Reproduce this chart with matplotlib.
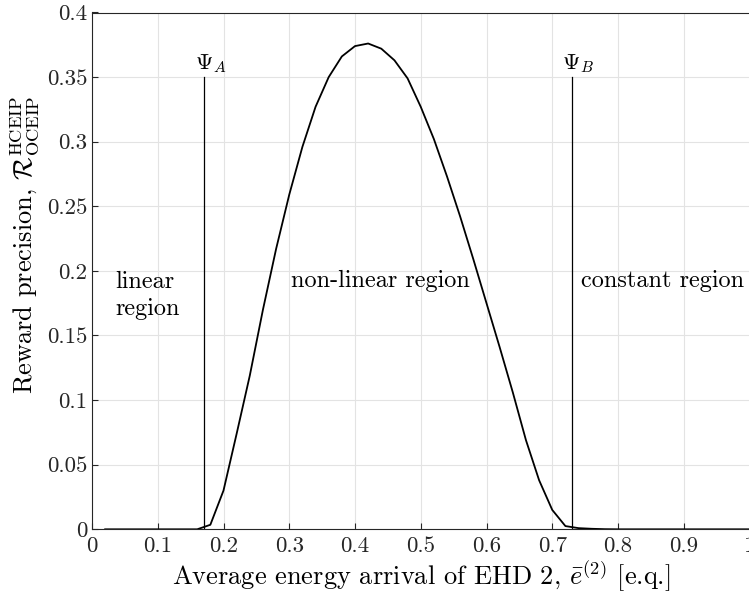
import numpy as np
import matplotlib
matplotlib.use("Agg")
from matplotlib import pyplot as plt

plt.rcParams["font.family"] = "serif"
plt.rcParams["font.serif"] = ["cmr10"]
plt.rcParams["mathtext.fontset"] = "cm"
plt.rcParams["axes.formatter.use_mathtext"] = True

# average energy arrival of EHD 2
e_bar = [0.02, 0.04, 0.06, 0.08, 0.10, 0.12, 0.14, 0.16, 0.18, 0.20,
         0.22, 0.24, 0.26, 0.28, 0.30, 0.32, 0.34, 0.36, 0.38, 0.40,
         0.42, 0.44, 0.46, 0.48, 0.50, 0.52, 0.54, 0.56, 0.58, 0.60,
         0.62, 0.64, 0.66, 0.68, 0.70, 0.72, 0.74, 0.76, 0.78, 0.80,
         0.82, 0.84, 0.86, 0.88, 0.90, 0.92, 0.94, 0.96, 0.98, 1.00]
# reward precision
precision = [0, 0, 0, 0, 0, 0, 0, 0, 0.0035, 0.030,
             0.074, 0.119, 0.170, 0.217, 0.259, 0.296, 0.327, 0.350, 0.366, 0.374,
             0.376, 0.372, 0.363, 0.349, 0.327, 0.302, 0.273, 0.242, 0.209, 0.175,
             0.141, 0.106, 0.069, 0.038, 0.015, 0.0025, 0.0009, 0.0004, 0.0001, 0,
             0, 0, 0, 0, 0, 0, 0, 0, 0, 0]

psi_a = 0.17
psi_b = 0.73
psi_top = 0.35

fig = plt.figure(figsize=(7.49, 6.01), dpi=100)
ax = fig.add_axes([92 / 749, 71.7 / 601, 657.5 / 749, 516.8 / 601])

ax.plot(e_bar, precision, color="black", linewidth=1.3, zorder=3)
ax.plot([psi_a, psi_a], [0, psi_top], color="black", linewidth=0.9, zorder=3)
ax.plot([psi_b, psi_b], [0, psi_top], color="black", linewidth=0.9, zorder=3)

ax.text(psi_a - 0.014, 0.352, r"$\Psi_A$", fontsize=16, ha="left", va="bottom")
ax.text(psi_b - 0.015, 0.352, r"$\Psi_B$", fontsize=16, ha="left", va="bottom")
ax.text(0.035, 0.181, "linear\nregion", fontsize=17.5, ha="left", va="center",
        linespacing=1.3)
ax.text(0.303, 0.192, "non-linear region", fontsize=17.5, ha="left", va="center")
ax.text(0.744, 0.192, "constant region", fontsize=17.5, ha="left", va="center")

ax.set_xlim(0, 1)
ax.set_ylim(0, 0.4)
ax.set_xticks(np.arange(0, 1.01, 0.1))
ax.set_yticks(np.arange(0, 0.401, 0.05))
ax.set_xticklabels(["0", "0.1", "0.2", "0.3", "0.4", "0.5", "0.6", "0.7", "0.8", "0.9", "1"])
ax.set_yticklabels(["0", "0.05", "0.1", "0.15", "0.2", "0.25", "0.3", "0.35", "0.4"])
ax.grid(True, color="#e3e3e3", linewidth=0.8)
ax.set_axisbelow(True)
ax.tick_params(direction="in", length=4, labelsize=16.5, colors="#262626",
               top=False, right=False)
ax.tick_params(axis="x", pad=5)
for s in ax.spines.values():
    s.set_color("#262626")
    s.set_linewidth(0.8)

ax.set_xlabel(r"Average energy arrival of EHD 2, $\bar{e}^{(2)}$ [e.q.]", fontsize=19,
              labelpad=2)
ax.set_ylabel(r"Reward precision, $\mathcal{R}^{\mathrm{HCEIP}}_{\mathrm{OCEIP}}$", fontsize=19)
ax.yaxis.set_label_coords(-0.0776, 0.55)

fig.savefig("out.png", dpi=100)
